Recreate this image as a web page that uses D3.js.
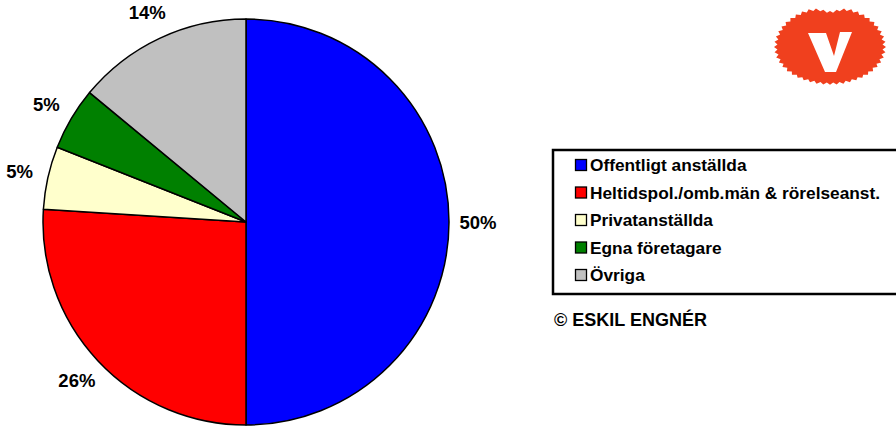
<!DOCTYPE html>
<html lang="sv">
<head>
<meta charset="utf-8">
<title>Yrkesfördelning</title>
<script src="https://d3js.org/d3.v7.min.js"></script>
<style>
  body { margin: 0; background: #fff; }
  text { font-family: "Liberation Sans", Arial, sans-serif; font-weight: bold; fill: #000; }
  .lbl { font-size: 18.5px; }
  .leg { font-size: 17.3px; }
</style>
</head>
<body>
<div id="chart"></div>
<script>
var w = 896, h = 426;

// data
var categories = ["Offentligt anställda", "Heltidspol./omb.män & rörelseanst.", "Privatanställda", "Egna företagare", "Övriga"];
var values = [50, 26, 5, 5, 14];
var colors = ["#0000ff", "#ff0000", "#ffffcc", "#008000", "#c0c0c0"];

var svg = d3.select("#chart").append("svg")
  .attr("width", w).attr("height", h);

var cx = 246, cy = 222, r = 203;

var pie = d3.pie().sort(null).value(function(d) { return d; });
var arcs = pie(values);
var arc = d3.arc().innerRadius(0).outerRadius(r);
var labelArc = d3.arc().innerRadius(232).outerRadius(232);

var g = svg.append("g").attr("transform", "translate(" + cx + "," + cy + ")");

g.selectAll("path.slice")
  .data(arcs)
  .enter().append("path")
  .attr("class", "slice")
  .attr("d", arc)
  .attr("fill", function(d, i) { return colors[i]; })
  .attr("stroke", "#000")
  .attr("stroke-width", 1.5)
  .attr("stroke-linejoin", "round");

g.selectAll("text.lbl")
  .data(arcs)
  .enter().append("text")
  .attr("class", "lbl")
  .attr("transform", function(d) { return "translate(" + labelArc.centroid(d) + ")"; })
  .attr("text-anchor", "middle")
  .attr("dy", "0.36em")
  .text(function(d) { return d.value + "%"; });

// legend
var legend = svg.append("g").attr("id", "legend");
legend.append("rect")
  .attr("x", 553).attr("y", 150).attr("width", 350).attr("height", 144)
  .attr("fill", "#fff").attr("stroke", "#000").attr("stroke-width", 2.5);

var rowY = d3.scalePoint().domain(categories).range([165, 275]);

var items = legend.selectAll("g.item")
  .data(categories)
  .enter().append("g")
  .attr("class", "item")
  .attr("transform", function(d) { return "translate(0," + rowY(d) + ")"; });

items.append("rect")
  .attr("x", 575.5).attr("y", -5.5).attr("width", 11).attr("height", 11)
  .attr("fill", function(d, i) { return colors[i]; })
  .attr("stroke", "#000").attr("stroke-width", 1.3);

items.append("text")
  .attr("class", "leg")
  .attr("x", 590).attr("dy", "0.36em")
  .text(function(d) { return d; });

svg.append("text")
  .attr("x", 554).attr("y", 326)
  .style("font-size", "18px")
  .text("© ESKIL ENGNÉR");

// logo: red serrated flower with white V
var logo = svg.append("g").attr("transform", "translate(830,47)");
var pts = d3.range(0, 96).map(function(i) {
  var a = i / 96 * 2 * Math.PI;
  var jag = (i % 2 === 0) ? 1 : 0.94;
  var notch = 1 - 0.12 * Math.pow(Math.max(0, Math.cos(a)), 40);
  var taper = 1 - 0.08 * Math.pow(Math.max(0, -Math.cos(a)), 2);
  return [a, jag * notch * taper];
});
var flower = d3.lineRadial()
  .angle(function(d) { return d[0]; })
  .radius(function(d) { return d[1]; })
  .curve(d3.curveLinearClosed);
logo.append("path")
  .attr("d", flower(pts))
  .attr("transform", "scale(56,41)")
  .attr("fill", "#f0401e");
logo.append("path")
  .attr("d", "M-22,-14 L-4,-14 L4,9 L10,-15 L22,-15 L6,25 L-5,25 Z")
  .attr("fill", "#fff");
</script>
</body>
</html>
